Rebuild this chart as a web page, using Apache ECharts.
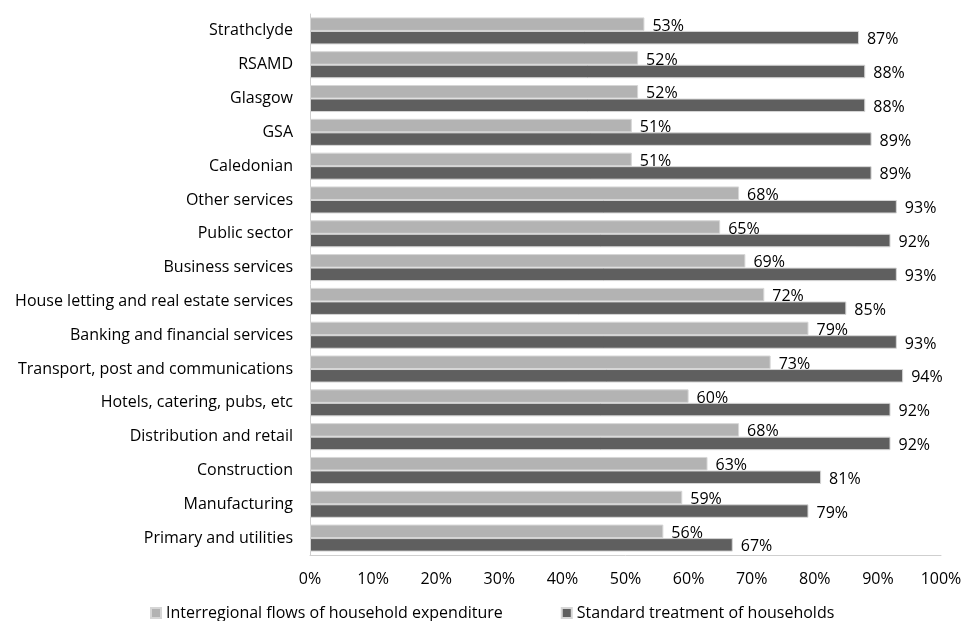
<!DOCTYPE html>
<html>
<head>
<meta charset="utf-8">
<script src="https://cdn.jsdelivr.net/npm/echarts@6/dist/echarts.min.js"></script>
<style>
  html, body { margin: 0; padding: 0; background: #fff; }
  #chart { width: 967px; height: 621px; }
</style>
</head>
<body>
<div id="chart"></div>
<script>
// Categories listed bottom to top (category axis starts at the bottom)
const categories = [
  'Primary and utilities',
  'Manufacturing',
  'Construction',
  'Distribution and retail',
  'Hotels, catering, pubs, etc',
  'Transport, post and communications',
  'Banking and financial services',
  'House letting and real estate services',
  'Business services',
  'Public sector',
  'Other services',
  'Caledonian',
  'GSA',
  'Glasgow',
  'RSAMD',
  'Strathclyde'
];

const seriesNames = [
  'Interregional flows of household expenditure',
  'Standard treatment of households'
];

// Percent values per category
const interregional = [56, 59, 63, 68, 60, 73, 79, 72, 69, 65, 68, 51, 51, 52, 52, 53];
const standard      = [67, 79, 81, 92, 92, 94, 93, 85, 93, 92, 93, 89, 89, 88, 88, 87];

const xTicks = { min: 0, max: 100, interval: 10 };

const FONT = 'Open Sans';
const FS = 16;
const TEXT = '#000';

const chart = echarts.init(document.getElementById('chart'), null, { renderer: 'canvas' });

function barLabel(dy) {
  return {
    show: true,
    position: 'right',
    distance: 8,
    offset: [0, dy],
    formatter: p => p.value + '%',
    fontFamily: FONT,
    fontSize: FS,
    color: TEXT
  };
}

chart.setOption({
  animation: false,
  backgroundColor: '#fff',
  grid: { left: 310, right: 26, top: 14, bottom: 66, containLabel: false },
  legend: {
    data: seriesNames,
    bottom: -5,
    left: 145,
    itemWidth: 10,
    itemHeight: 10,
    itemGap: 58,
    icon: 'rect',
    textStyle: { fontFamily: FONT, fontSize: FS, color: TEXT }
  },
  xAxis: {
    type: 'value',
    min: xTicks.min,
    max: xTicks.max,
    interval: xTicks.interval,
    axisLine: { show: true, lineStyle: { color: '#cfcfcf', width: 1 } },
    axisTick: { show: false },
    splitLine: { show: false },
    axisLabel: {
      formatter: v => v + '%',
      fontFamily: FONT,
      fontSize: FS,
      color: TEXT,
      margin: 16
    }
  },
  yAxis: {
    type: 'category',
    data: categories,
    axisLine: { show: true, lineStyle: { color: '#cfcfcf', width: 1 } },
    axisTick: { show: false },
    splitLine: { show: false },
    axisLabel: {
      fontFamily: FONT,
      fontSize: FS,
      color: TEXT,
      margin: 17
    }
  },
  series: [
    {
      name: seriesNames[0],
      type: 'bar',
      data: interregional,
      barGap: '0%',
      barCategoryGap: '20%',
      itemStyle: { color: '#b3b3b3', borderColor: '#d6d6d6', borderWidth: 1 },
      label: barLabel(2)
    },
    {
      name: seriesNames[1],
      type: 'bar',
      data: standard,
      barGap: '0%',
      barCategoryGap: '20%',
      itemStyle: { color: '#5f5f5f', borderColor: '#d6d6d6', borderWidth: 1 },
      label: barLabel(2)
    }
  ]
});
</script>
</body>
</html>
